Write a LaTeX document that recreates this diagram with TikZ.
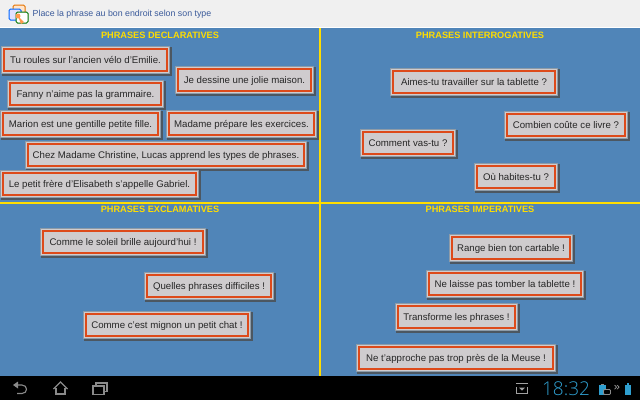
\documentclass[tikz,border=0pt]{standalone}
\usepackage{fontspec}
\setmainfont{Liberation Sans}
\newfontfamily\clockfont{Open Sans Light}
\definecolor{bluebg}{HTML}{5085B8}
\definecolor{cardgray}{HTML}{CFCCCE}
\definecolor{cardorange}{HTML}{DD4A1A}
\definecolor{cardedge}{HTML}{8D9BA8}
\definecolor{titleyellow}{HTML}{FFDD00}
\definecolor{headbg}{HTML}{F0F0F0}
\definecolor{headtext}{HTML}{3A5A9A}
\definecolor{clockblue}{HTML}{2F9FD0}
\definecolor{icongray}{HTML}{8A8A8A}
\tikzset{
  cardouter/.style={fill=cardgray,draw=cardedge,line width=1pt},
  cardtext/.style={draw=cardorange,line width=2pt,fill=cardgray,inner sep=0pt,
    font=\fontsize{9.65}{12}\selectfont,text=black!85,text height=8pt,text depth=0.5pt},
  zonetitle/.style={font=\bfseries\fontsize{9.2}{12}\selectfont,text=titleyellow,inner sep=0pt},
  divider/.style={draw=titleyellow,line width=2pt},
  navicon/.style={draw=icongray,line width=1.1pt}
}
% name, x0, y0, x1, y1, text
\newcommand{\phrasecard}[6]{%
  \fill[black!70,opacity=.8] (#2+1,#3+1) rectangle (#4+1.5,#5+1.5);
  \path[cardouter] (#2+.5,#3+.5) rectangle (#4-.5,#5-.5);
  \node[cardtext,minimum width=#4pt-#2pt-6pt,minimum height=#5pt-#3pt-6pt]
    (#1) at ({(#2+#4)/2},{(#3+#5)/2}) {#6};}
\begin{document}
\begin{tikzpicture}[x=1pt,y=-1pt]
\useasboundingbox (0,0) rectangle (640,400);
% bars
\fill[headbg] (0,0) rectangle (640,27.5);
\fill[white] (0,27) rectangle (640,28);
\fill[bluebg] (0,28) rectangle (640,376);
\fill[black] (0,376) rectangle (640,400);
% header icon
\path[draw=orange!90!black,fill=orange!20,line width=1pt,rounded corners=1.5pt] (13,5) rectangle (25,16);
\path[draw=blue!60!cyan,fill=blue!12,line width=1pt,rounded corners=1.5pt] (9,9) rectangle (21,20);
\path[draw=green!45!black,fill=white,line width=1pt,rounded corners=1.5pt] (16,12) rectangle (28,23);
\fill[orange!60!pink] (18,16) circle (2.5) -- (24,22) -- (21,24) -- cycle;
\node[anchor=west,inner sep=0pt,text=headtext,font=\fontsize{8.8}{11}\selectfont] (head) at (32.5,14.5) {Place la phrase au bon endroit selon son type};
% dividers
\draw[divider] (320,28) -- (320,376);
\draw[divider] (0,202.5) -- (640,202.5);
% titles
\node[zonetitle] (t1) at (160,35) {PHRASES DECLARATIVES};
\node[zonetitle] (t2) at (480,35) {PHRASES INTERROGATIVES};
\node[zonetitle] (t3) at (160,209.5) {PHRASES EXCLAMATIVES};
\node[zonetitle] (t4) at (480,209.5) {PHRASES IMPERATIVES};
% cards
\phrasecard{c1}{1}{46}{170}{74}{Tu roules sur l'ancien vélo d'Emilie.}
\phrasecard{c2}{175}{66}{314}{94}{Je dessine une jolie maison.}
\phrasecard{c3}{7}{80}{164}{108}{Fanny n'aime pas la grammaire.}
\phrasecard{c4}{0}{110}{161}{138}{Marion est une gentille petite fille.}
\phrasecard{c5}{166}{110}{317}{138}{Madame prépare les exercices.}
\phrasecard{c6}{25}{141}{307}{169}{Chez Madame Christine, Lucas apprend les types de phrases.}
\phrasecard{c7}{0}{170}{199}{198}{Le petit frère d'Elisabeth s'appelle Gabriel.}
\phrasecard{c8}{390}{68}{558}{96}{Aimes-tu travailler sur la tablette ?}
\phrasecard{c9}{504}{111}{628}{139}{Combien coûte ce livre ?}
\phrasecard{c10}{360}{129}{456}{157}{Comment vas-tu ?}
\phrasecard{c11}{474}{163}{558}{191}{Où habites-tu ?}
\phrasecard{c12}{40}{228}{206}{256}{Comme le soleil brille aujourd'hui !}
\phrasecard{c13}{144}{272}{274}{300}{Quelles phrases difficiles !}
\phrasecard{c14}{83}{311}{251}{339}{Comme c'est mignon un petit chat !}
\phrasecard{c15}{449}{234}{573}{262}{Range bien ton cartable !}
\phrasecard{c16}{426}{270}{584}{298}{Ne laisse pas tomber la tablette !}
\phrasecard{c17}{395}{303}{518}{331}{Transforme les phrases !}
\phrasecard{c18}{356}{344}{556}{372}{Ne t'approche pas trop près de la Meuse !}
% nav: back
\draw[navicon] (15,385) -- (22,385) .. controls (28,385) and (28,393.5) .. (22,393.5) -- (17,393.5);
\fill[icongray] (13,385) -- (18,381.5) -- (18,388.5) -- cycle;
% home
\draw[navicon,line join=miter] (53.5,389) -- (60.5,382) -- (67.5,389);
\draw[navicon] (56,387.5) -- (56,394) -- (65,394) -- (65,387.5);
% recent
\draw[navicon] (93,386) rectangle (104,394.5);
\draw[navicon] (96,386) -- (96,383) -- (107,383) -- (107,391.5) -- (104,391.5);
% status bar
\draw[icongray!80,line width=1.2pt] (516,383.5) -- (528,383.5);
\draw[icongray!80,line width=1.2pt] (516.5,387) -- (516.5,393.5) -- (527.5,393.5) -- (527.5,387);
\fill[icongray!80] (522,390.5) -- (519,387.5) -- (525,387.5) -- cycle;
\node[inner sep=0pt,text=clockblue,font=\clockfont\fontsize{19}{20}\selectfont] (clock) at (566,388.5) {18:32};
\fill[clockblue] (599,385) rectangle (606,395);
\fill[icongray] (601,383.5) rectangle (604,385);
\draw[icongray,fill=black,line width=0.9pt,rounded corners=1pt] (603.5,389.5) rectangle (610.5,394.5);
\node[inner sep=0pt,text=icongray!70,font=\fontsize{11}{12}\selectfont] (more) at (617,387.5) {»};
\fill[clockblue] (624.5,384.5) rectangle (631,395);
\fill[clockblue] (626.5,383) rectangle (629,384.5);
\end{tikzpicture}
\end{document}
